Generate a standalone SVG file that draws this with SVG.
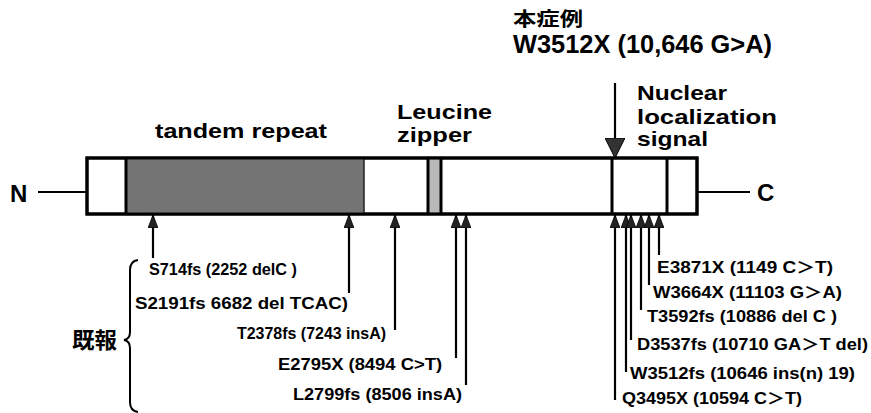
<svg xmlns="http://www.w3.org/2000/svg" width="871" height="413" viewBox="0 0 871 413">
<style>
.t{font-family:"Liberation Sans",Arial,sans-serif;font-weight:bold;fill:#000}
.m{font-size:16px}
.h{font-size:21px}
.j{font-family:"Liberation Sans","Noto Sans CJK JP",sans-serif;font-weight:bold;fill:#000}
.ln{stroke:#000;stroke-width:2;fill:none}
.arr{stroke:#000;stroke-width:2.2;fill:none;marker-end:url(#ah)}
.box{stroke:#000;stroke-width:3;fill:#fff}
</style>
<defs>
<marker id="ah" markerUnits="userSpaceOnUse" markerWidth="13" markerHeight="10" refX="13" refY="5" orient="auto" viewBox="0 0 13 10">
<path d="M0,0 L13,5 L0,10 z" fill="#222" stroke="#000" stroke-width="0.8"/>
</marker>
<marker id="big" markerUnits="userSpaceOnUse" markerWidth="20" markerHeight="20" refX="20" refY="10" orient="auto" viewBox="0 0 20 20">
<path d="M0,0 L20,10 L0,20 z" fill="#333" stroke="#000" stroke-width="1"/>
</marker>
</defs>

<g id="protein">
<rect class="box" x="87" y="158" width="610" height="56"/>
<rect id="tandem" x="126" y="159.5" width="238" height="53" fill="#747474"/>
<line x1="126" y1="158" x2="126" y2="214" stroke="#000" stroke-width="3"/>
<line x1="364" y1="158" x2="364" y2="214" stroke="#222" stroke-width="1.5"/>
<rect id="leucine" x="428" y="159.5" width="13" height="53" fill="#b9b9b9"/>
<line x1="428" y1="158" x2="428" y2="214" stroke="#000" stroke-width="3"/>
<line x1="441" y1="158" x2="441" y2="214" stroke="#000" stroke-width="3"/>
<line x1="612" y1="158" x2="612" y2="214" stroke="#000" stroke-width="3"/>
<line x1="667" y1="158" x2="667" y2="214" stroke="#000" stroke-width="3"/>
<rect x="87" y="158" width="610" height="56" fill="none" stroke="#000" stroke-width="3"/>
</g>

<g id="termN">
<text class="t" x="10" y="202" font-size="24">N</text>
<line class="ln" x1="38" y1="192" x2="87" y2="192"/>
</g>
<g id="termC">
<line class="ln" x1="697" y1="192" x2="750" y2="192"/>
<text class="t" x="757" y="201" font-size="24">C</text>
</g>

<g id="labels">
<text class="t h" x="155" y="138" textLength="172" lengthAdjust="spacingAndGlyphs">tandem repeat</text>
<text class="t h" x="397" y="119" textLength="95" lengthAdjust="spacingAndGlyphs">Leucine</text>
<text class="t h" x="397" y="142" textLength="75" lengthAdjust="spacingAndGlyphs">zipper</text>
<text class="t h" x="637" y="100" textLength="90" lengthAdjust="spacingAndGlyphs">Nuclear</text>
<text class="t h" x="637" y="124" textLength="140" lengthAdjust="spacingAndGlyphs">localization</text>
<text class="t h" x="637" y="146" textLength="71" lengthAdjust="spacingAndGlyphs">signal</text>
</g>

<g id="thisCase">
<text class="j" x="513" y="26" font-size="19" textLength="70" lengthAdjust="spacingAndGlyphs">本症例</text>
<text class="t" x="513" y="53" font-size="25" textLength="259" lengthAdjust="spacingAndGlyphs">W3512X (10,646 G&gt;A)</text>
</g>

<g id="reported">
<text class="j" x="72" y="348" font-size="22" textLength="45" lengthAdjust="spacingAndGlyphs">既報</text>
<path class="ln" stroke-width="1.5" d="M138,260 Q130,261 130,270 L130,332 Q130,339 124,340 Q130,341 130,348 L130,402 Q130,411 138,412"/>
</g>

<g id="connectors">
<line class="arr" x1="615" y1="83" x2="615" y2="158" stroke-width="4" style="marker-end:url(#big)"/>
<line class="arr" x1="153" y1="258" x2="153" y2="215"/>
<line class="arr" x1="349" y1="293" x2="349" y2="215"/>
<line class="arr" x1="395" y1="330" x2="395" y2="215"/>
<line class="arr" x1="456" y1="358" x2="456" y2="215"/>
<line class="arr" x1="466" y1="385" x2="466" y2="215"/>
<line class="arr" x1="615" y1="400" x2="615" y2="215"/>
<line class="arr" x1="626" y1="372" x2="626" y2="215"/>
<line class="arr" x1="631" y1="340" x2="631" y2="215"/>
<line class="arr" x1="641" y1="310" x2="641" y2="215"/>
<line class="arr" x1="649" y1="285" x2="649" y2="215"/>
<line class="arr" x1="659" y1="255" x2="659" y2="215"/>
</g>

<g id="mutationsLeft">
<text class="t m" x="149" y="275" textLength="148" lengthAdjust="spacingAndGlyphs">S714fs (2252 delC )</text>
<text class="t m" x="135" y="309" textLength="213" lengthAdjust="spacingAndGlyphs">S2191fs  6682 del TCAC)</text>
<text class="t m" x="237" y="339" textLength="149" lengthAdjust="spacingAndGlyphs">T2378fs (7243 insA)</text>
<text class="t m" x="278" y="370" textLength="164" lengthAdjust="spacingAndGlyphs">E2795X (8494 C&gt;T)</text>
<text class="t m" x="293" y="400" textLength="169" lengthAdjust="spacingAndGlyphs">L2799fs (8506 insA)</text>
</g>

<g id="mutationsRight">
<text class="j m" x="657" y="273" textLength="176" lengthAdjust="spacingAndGlyphs">E3871X  (1149 C＞T)</text>
<text class="j m" x="653" y="298" textLength="189" lengthAdjust="spacingAndGlyphs">W3664X (11103 G＞A)</text>
<text class="t m" x="647" y="322" textLength="190" lengthAdjust="spacingAndGlyphs">T3592fs (10886 del C )</text>
<text class="j m" x="637" y="350" textLength="231" lengthAdjust="spacingAndGlyphs">D3537fs (10710 GA＞T del)</text>
<text class="t m" x="630" y="379" textLength="225" lengthAdjust="spacingAndGlyphs">W3512fs (10646 ins(n) 19)</text>
<text class="j m" x="622" y="404" textLength="180" lengthAdjust="spacingAndGlyphs">Q3495X (10594 C＞T)</text>
</g>
</svg>
